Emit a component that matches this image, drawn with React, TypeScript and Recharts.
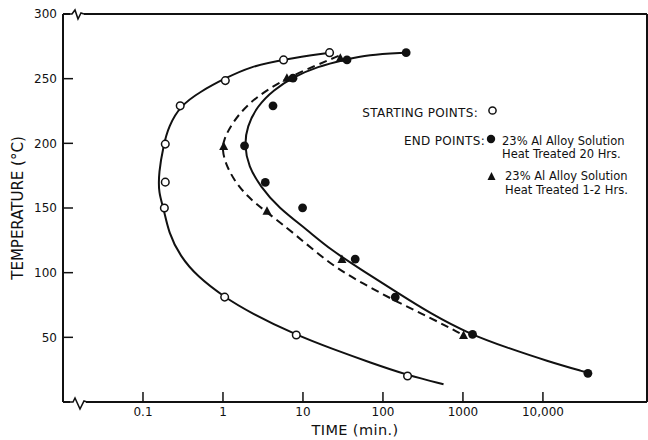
import React from "react";
import {
  ComposedChart,
  Line,
  Scatter,
  XAxis,
  YAxis,
} from "recharts";

// time ticks (min.) and their printed labels
const timeTicks = [0.1, 1, 10, 100, 1000, 10000];
const timeTickLabels = ["0.1", "1", "10", "100", "1000", "10,000"];
const tempTicks = [50, 100, 150, 200, 250, 300];
const tempTicksRight = [50, 100, 150, 200, 250];

// fitted curves (temperature falls along each list)
const startCurve = [
  { x: 21.9, t: 270.1 },
  { x: 5.72, t: 265.0 },
  { x: 2.19, t: 259.3 },
  { x: 1.07, t: 250.4 },
  { x: 0.52, t: 240.0 },
  { x: 0.292, t: 229.0 },
  { x: 0.209, t: 213.0 },
  { x: 0.181, t: 198.9 },
  { x: 0.157, t: 177.1 },
  { x: 0.157, t: 161.6 },
  { x: 0.181, t: 150.1 },
  { x: 0.209, t: 130.8 },
  { x: 0.292, t: 112.7 },
  { x: 0.473, t: 97.3 },
  { x: 1.04, t: 81.1 },
  { x: 2.19, t: 69.1 },
  { x: 8.18, t: 51.8 },
  { x: 24.1, t: 40.7 },
  { x: 69.4, t: 30.5 },
  { x: 203, t: 20.7 },
  { x: 572, t: 13.7 },
];

const endCurve20 = [
  { x: 195.5, t: 270.1 },
  { x: 63.1, t: 268.4 },
  { x: 35.5, t: 265.0 },
  { x: 15.0, t: 259.3 },
  { x: 7.63, t: 251.2 },
  { x: 4.29, t: 241.4 },
  { x: 2.66, t: 228.5 },
  { x: 2.0, t: 213.0 },
  { x: 1.85, t: 198.1 },
  { x: 2.09, t: 182.2 },
  { x: 2.93, t: 166.7 },
  { x: 4.91, t: 150.3 },
  { x: 11.2, t: 133.3 },
  { x: 21.9, t: 117.9 },
  { x: 57.2, t: 101.2 },
  { x: 150, t: 84.7 },
  { x: 390, t: 68.5 },
  { x: 1233, t: 52.3 },
  { x: 3548, t: 42.1 },
  { x: 11220, t: 31.7 },
  { x: 35480, t: 22.8 },
];

const endCurve12 = [
  { x: 27.9, t: 267.6 },
  { x: 15.0, t: 260.6 },
  { x: 6.94, t: 251.6 },
  { x: 3.55, t: 241.4 },
  { x: 2.0, t: 229.8 },
  { x: 1.3, t: 215.7 },
  { x: 1.02, t: 202.8 },
  { x: 0.98, t: 195.1 },
  { x: 1.07, t: 184.8 },
  { x: 1.36, t: 171.9 },
  { x: 2.0, t: 159.0 },
  { x: 3.38, t: 147.5 },
  { x: 7.63, t: 130.8 },
  { x: 21.9, t: 106.3 },
  { x: 57.2, t: 91.3 },
  { x: 150, t: 77.4 },
  { x: 390, t: 65.2 },
  { x: 972, t: 52.3 },
];

// measured points
const startPts = [
  { x: 0.185, t: 150 },
  { x: 0.19, t: 170 },
  { x: 0.19, t: 199.4 },
  { x: 0.292, t: 229 },
  { x: 1.07, t: 248.5 },
  { x: 5.72, t: 264.5 },
  { x: 21.5, t: 270.1 },
  { x: 1.05, t: 81.1 },
  { x: 8.25, t: 51.8 },
  { x: 203, t: 20.1 },
];

const endPts20 = [
  { x: 195, t: 270.1 },
  { x: 35.5, t: 264.5 },
  { x: 7.5, t: 250.4 },
  { x: 4.22, t: 229 },
  { x: 1.86, t: 198.1 },
  { x: 3.38, t: 169.8 },
  { x: 9.89, t: 150.1 },
  { x: 45, t: 110.5 },
  { x: 142.5, t: 81.1 },
  { x: 1318, t: 52.3 },
  { x: 36500, t: 22.2 },
];

const endPts12 = [
  { x: 29.3, t: 265.8 },
  { x: 6.3, t: 250.4 },
  { x: 1.02, t: 197.6 },
  { x: 3.55, t: 147.5 },
  { x: 30.7, t: 110.2 },
  { x: 1017, t: 51.5 },
];

const INK = "#111";
const FONT = "'DejaVu Sans', Verdana, sans-serif";

const OpenDot = (p: any) => (
  <circle cx={p.cx} cy={p.cy} r={3.8} fill="#fff" stroke={INK} strokeWidth={1.5} />
);
const FilledDot = (p: any) => <circle cx={p.cx} cy={p.cy} r={4.4} fill={INK} />;
const Tri = (p: any) => (
  <polygon
    points={`${p.cx},${p.cy - 5} ${p.cx - 4.5},${p.cy + 3.5} ${p.cx + 4.5},${p.cy + 3.5}`}
    fill={INK}
  />
);

const fmtTime = (v: number) => {
  const i = timeTicks.indexOf(v);
  return i >= 0 ? timeTickLabels[i] : String(v);
};

function Overlay() {
  return (
    <svg
      width={648}
      height={440}
      style={{ position: "absolute", left: 0, top: 0, pointerEvents: "none" }}
      fontFamily={FONT}
      fill={INK}
    >
      {/* axis breaks */}
      <rect x={70} y={11} width={14} height={6} fill="#fff" />
      <path d="M69,14 L72,14 L75,10 L78,19 L81,13 L84,14" stroke={INK} strokeWidth={1.6} fill="none" />
      <rect x={70} y={399} width={16} height={6} fill="#fff" />
      <path d="M69,402 L73,402 L75,398 L80,409 L84,401 L87,402" stroke={INK} strokeWidth={1.6} fill="none" />

      {/* legend */}
      <text x={478} y={116.5} fontSize={12} textAnchor="end" letterSpacing={0.3}>STARTING POINTS:</text>
      <circle cx={492.5} cy={110.5} r={3.6} fill="#fff" stroke={INK} strokeWidth={1.5} />
      <text x={485} y={145} fontSize={12} textAnchor="end" letterSpacing={0.3}>END POINTS:</text>
      <circle cx={491} cy={139} r={4.2} fill={INK} />
      <text x={502} y={145} fontSize={11.5}>23% Al Alloy Solution</text>
      <text x={502} y={158} fontSize={11.5}>Heat Treated 20 Hrs.</text>
      <polygon points="491.5,172 487.5,180 495.5,180" fill={INK} />
      <text x={505} y={180} fontSize={11.5}>23% Al Alloy Solution</text>
      <text x={505} y={194} fontSize={11.5}>Heat Treated 1-2 Hrs.</text>
    </svg>
  );
}

export default function App() {
  const tickStyle = { fill: INK, fontSize: 12, fontFamily: FONT };
  return (
    <div style={{ position: "absolute", left: 0, top: 0, width: 648, height: 440, background: "#fff", fontFamily: FONT }}>
      <ComposedChart width={648} height={440} margin={{ top: 13, right: 0, bottom: 0, left: 0 }}>
        <XAxis
          dataKey="x"
          type="number"
          scale="log"
          domain={[0.01, 200000]}
          allowDataOverflow
          ticks={timeTicks}
          tickFormatter={fmtTime}
          tick={tickStyle}
          tickSize={-10}
          tickMargin={15}
          height={38}
          stroke={INK}
          strokeWidth={2}
          tickLine={{ stroke: INK, strokeWidth: 1.5 }}
          label={{ value: "TIME (min.)", position: "insideBottom", offset: 5, fill: INK, fontSize: 14.5, fontFamily: FONT, letterSpacing: 0.4 }}
        />
        <XAxis
          xAxisId="top"
          orientation="top"
          dataKey="x"
          type="number"
          scale="log"
          domain={[0.01, 200000]}
          allowDataOverflow
          ticks={timeTicks}
          tick={false}
          tickSize={-10}
          height={1}
          stroke={INK}
          strokeWidth={2}
          tickLine={{ stroke: INK, strokeWidth: 1.5 }}
        />
        <YAxis
          dataKey="t"
          type="number"
          domain={[0, 300]}
          allowDataOverflow
          ticks={tempTicks}
          tick={tickStyle}
          tickSize={-10}
          tickMargin={16}
          width={63}
          stroke={INK}
          strokeWidth={2}
          tickLine={{ stroke: INK, strokeWidth: 1.5 }}
          label={{
            value: "TEMPERATURE (°C)",
            angle: -90,
            position: "insideLeft",
            offset: 18,
            fill: INK,
            fontSize: 15,
            fontFamily: FONT,
            style: { textAnchor: "middle" },
          }}
        />
        <YAxis
          yAxisId="r"
          orientation="right"
          dataKey="t"
          type="number"
          domain={[0, 300]}
          allowDataOverflow
          ticks={tempTicksRight}
          tick={false}
          tickSize={-9}
          width={1}
          stroke={INK}
          strokeWidth={2}
          tickLine={{ stroke: INK, strokeWidth: 1.5 }}
        />

        <Line data={startCurve} dataKey="t" type="basis" stroke={INK} strokeWidth={2} dot={false} isAnimationActive={false} />
        <Line data={endCurve20} dataKey="t" type="basis" stroke={INK} strokeWidth={2} dot={false} isAnimationActive={false} />
        <Line data={endCurve12} dataKey="t" type="basis" stroke={INK} strokeWidth={2} strokeDasharray="8 5" dot={false} isAnimationActive={false} />

        <Scatter data={endPts12} shape={Tri} isAnimationActive={false} />
        <Scatter data={endPts20} shape={FilledDot} isAnimationActive={false} />
        <Scatter data={startPts} shape={OpenDot} isAnimationActive={false} />
      </ComposedChart>
      <Overlay />
    </div>
  );
}
